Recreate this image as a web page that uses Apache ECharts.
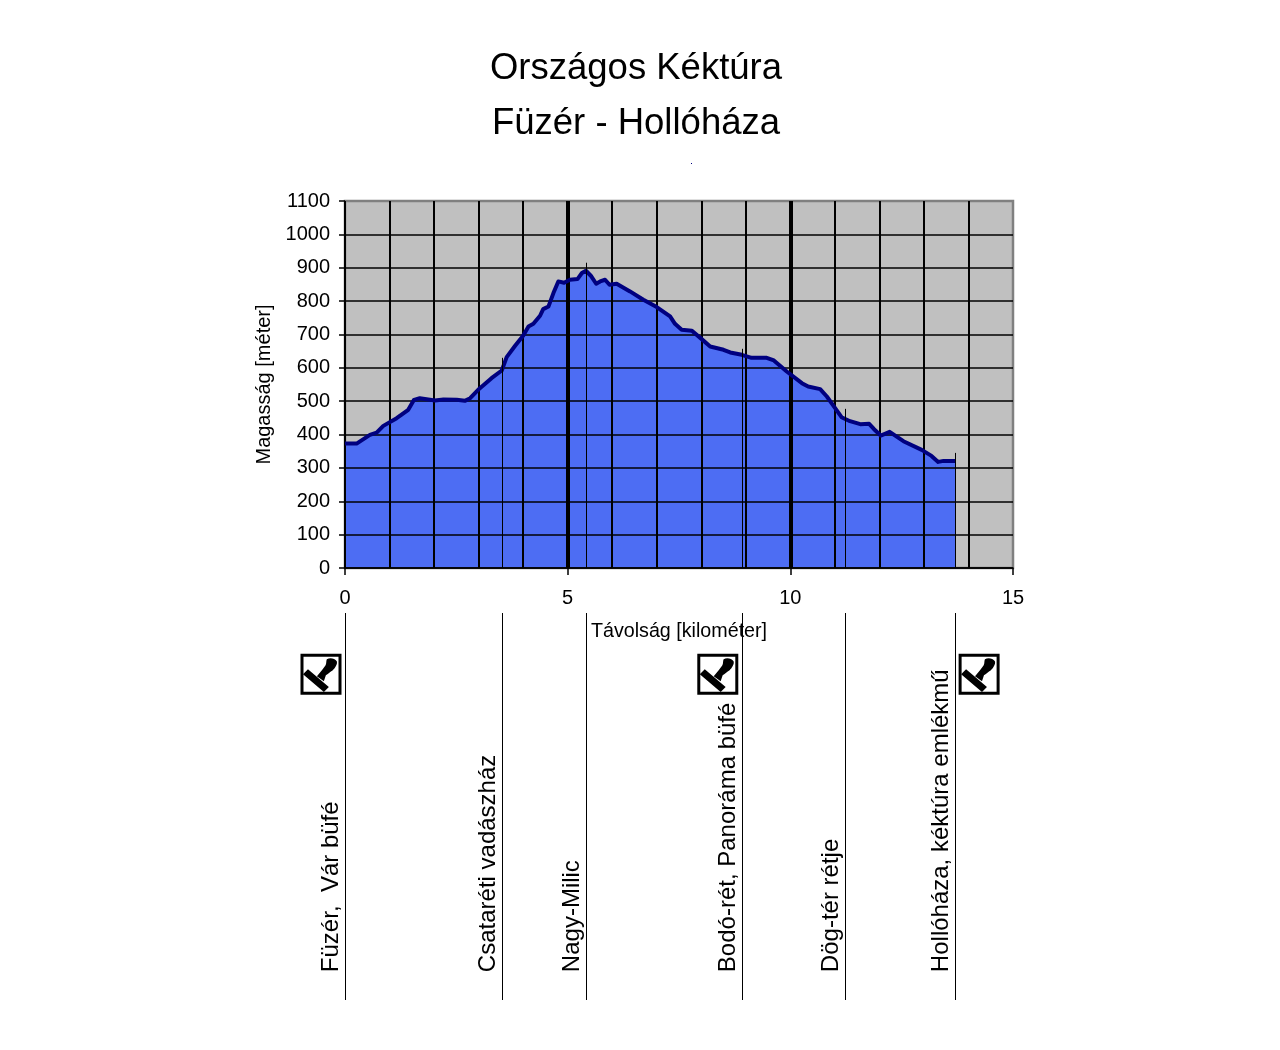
<!DOCTYPE html>
<html><head><meta charset="utf-8">
<style>html,body{margin:0;background:#fff}#c{width:1280px;height:1050px}</style>
<script src="https://cdn.jsdelivr.net/npm/echarts@6/dist/echarts.min.js"></script>
</head><body><div id="c"></div>
<script>
const titleLines = ['Országos Kéktúra', 'Füzér - Hollóháza'];
const distanceKm = [0,0.26,0.56,0.71,0.86,1.16,1.42,1.55,1.68,2.02,2.21,2.51,2.69,2.81,2.99,3.29,3.52,3.63,3.82,4.0,4.12,4.23,4.38,4.45,4.57,4.68,4.79,4.92,5.05,5.22,5.32,5.41,5.52,5.64,5.73,5.84,5.94,6.10,6.40,6.70,7.0,7.30,7.41,7.56,7.79,8.01,8.2,8.5,8.65,8.91,9.13,9.47,9.63,9.92,10.26,10.40,10.67,10.82,10.97,11.15,11.34,11.57,11.77,11.88,12.03,12.23,12.54,12.95,13.17,13.32,13.44,13.70];
const elevationM = [373,373,399,406,426,449,474,504,509,502,505,504,501,509,534,569,592,632,666,696,724,732,756,776,784,824,859,855,864,866,884,891,876,852,859,864,849,852,829,804,782,754,732,714,711,686,664,654,646,639,630,630,622,589,554,544,536,514,486,452,440,431,432,416,397,408,380,354,336,318,321,321];
const stationNames = ['Füzér,  Vár büfé','Csataréti vadászház','Nagy-Milic','Bodó-rét, Panoráma büfé','Dög-tér rétje','Hollóháza, kéktúra emlékmű'];
const stationKm = [0,3.52,5.41,8.91,11.23,13.70];
const stationTopM = [373,630,915,657,477,345];
const stampKm = [0,8.91,13.70];
const stampSide = [-1,-1,1];
const yMax = 1100;

const stampPath = 'path://M1 20L6 15L27 33L22 38ZM15 22L20 16L23 12C25 10 24 7 25 5C28 3 33 4 35 7C36 10 33 14 31 16C28 18 27 19 24 21L22 27Z';
const black = '#000';
const seriesPts = distanceKm.map((d,i)=>[d,elevationM[i]]);
const chart = echarts.init(document.getElementById('c'), null, {renderer:'canvas'});
chart.setOption({
  animation:false,
  backgroundColor:'#fff',
  textStyle:{fontFamily:'"Liberation Sans",Arial,sans-serif',color:black},
  title:{
    text:titleLines.join('\n'),left:631,top:36,textAlign:'center',
    textStyle:{fontSize:36.5,fontWeight:'normal',color:black,lineHeight:55,fontFamily:'"Liberation Sans",Arial,sans-serif'}
  },
  graphic:[{type:'rect',shape:{x:691,y:163,width:1,height:1},style:{fill:'#000080'},silent:true}],
  grid:[
    {left:345,top:201,width:668,height:367,show:true,backgroundColor:'#c0c0c0',borderColor:'#808080',borderWidth:2.5},
    {left:345,top:613,width:668,height:387,show:false}
  ],
  xAxis:[
    {type:'value',gridIndex:0,min:0,max:15,interval:5,position:'bottom',z:3,
     name:'Távolság [kilométer]',nameLocation:'middle',nameGap:54,
     nameTextStyle:{fontSize:19.7,color:black},
     axisLine:{show:true,onZero:false,lineStyle:{color:black,width:1.5}},
     axisTick:{show:true,length:7,lineStyle:{color:black,width:1.5}},
     axisLabel:{fontSize:20,color:black,margin:20,hideOverlap:false},
     splitLine:{show:true,showMinLine:false,showMaxLine:false,lineStyle:{color:black,width:4}}},
    {type:'value',gridIndex:0,min:0,max:15,interval:1,position:'bottom',z:3,
     axisLine:{show:false,onZero:false},axisTick:{show:false},axisLabel:{show:false},
     splitLine:{show:true,showMaxLine:false,lineStyle:{color:black,width:2}}},
    {type:'value',gridIndex:1,min:0,max:15,show:false}
  ],
  yAxis:[
    {type:'value',gridIndex:0,min:0,max:yMax,interval:100,z:3,
     name:'Magasság [méter]',nameLocation:'middle',nameGap:71,
     nameTextStyle:{fontSize:20,color:black},
     axisLine:{show:false},
     axisTick:{show:true,length:6,lineStyle:{color:black,width:1.5}},
     axisLabel:{fontSize:20,color:black,margin:15,padding:[2,0,0,0],formatter:v=>String(v)},
     splitLine:{show:true,showMaxLine:false,lineStyle:{color:black,width:1.5}}},
    {type:'value',gridIndex:1,min:0,max:1,show:false}
  ],
  series:[
    {name:'area',type:'line',xAxisIndex:0,yAxisIndex:0,z:1,data:seriesPts,showSymbol:false,silent:true,
     lineStyle:{width:0,opacity:0},areaStyle:{color:'#4d6df3',opacity:1}},
    {name:'stations',type:'line',xAxisIndex:0,yAxisIndex:0,z:3,data:[],silent:true,
     markLine:{silent:true,symbol:'none',animation:false,label:{show:false},
       lineStyle:{color:black,width:1,type:'solid',opacity:1},
       data:stationKm.slice(1).map((k,i)=>[{coord:[k,0]},{coord:[k,stationTopM[i+1]]}])}},
    {name:'profile',type:'line',xAxisIndex:0,yAxisIndex:0,z:4,data:seriesPts,showSymbol:false,silent:true,
     lineStyle:{color:'#000080',width:4,join:'round'}},
    {name:'drops',type:'line',xAxisIndex:2,yAxisIndex:1,data:[],silent:true,
     markLine:{silent:true,symbol:'none',animation:false,label:{show:false},
       lineStyle:{color:black,width:1,type:'solid',opacity:1},
       data:stationKm.map(k=>[{coord:[k,0]},{coord:[k,1]}])}},
    {name:'labels',type:'scatter',xAxisIndex:2,yAxisIndex:1,symbolSize:1,silent:true,
     itemStyle:{color:'rgba(0,0,0,0)',opacity:1},clip:false,
     data:stationKm.map((k,i)=>({value:[k,0.072],name:stationNames[i]})),
     label:{show:true,position:'left',distance:13,rotate:90,align:'left',verticalAlign:'middle',
       formatter:p=>p.name,fontSize:24,color:black,fontFamily:'"Liberation Sans",Arial,sans-serif'}},
    {name:'stampBox',type:'scatter',xAxisIndex:2,yAxisIndex:1,symbol:'rect',symbolSize:38,clip:false,silent:true,z:5,
     itemStyle:{color:'#fff',borderColor:black,borderWidth:3,opacity:1},
     data:stampKm.map((k,i)=>({value:[k,0.842],symbolOffset:[stampSide[i]*24,0]}))},
    {name:'stamp',type:'scatter',xAxisIndex:2,yAxisIndex:1,symbol:stampPath,symbolSize:[34,34],symbolKeepAspect:true,clip:false,silent:true,z:6,
     itemStyle:{color:black,opacity:1},
     data:stampKm.map((k,i)=>({value:[k,0.842],symbolOffset:[stampSide[i]*24-1,1]}))}
  ]
});
</script></body></html>
